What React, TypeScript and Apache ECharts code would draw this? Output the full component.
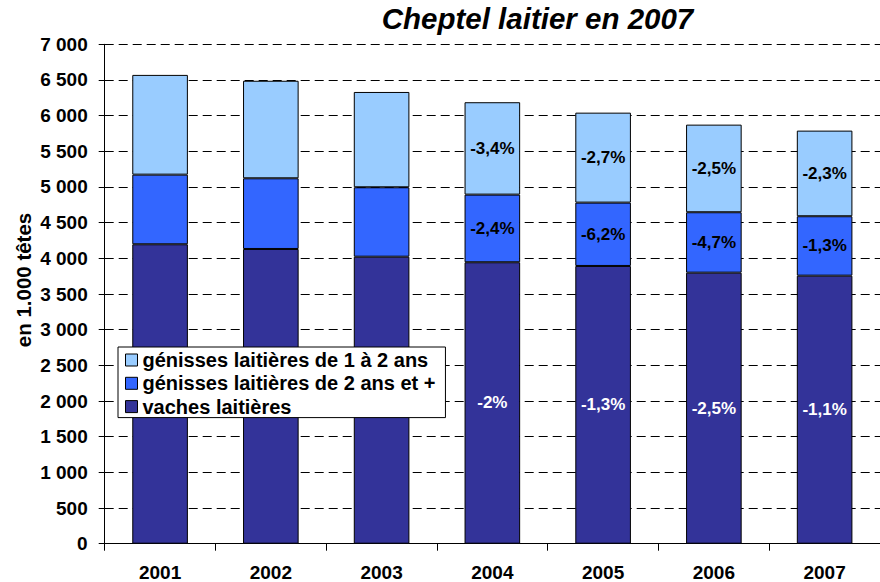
import React, { useEffect, useRef } from "react";
import * as echarts from "echarts";

const years = ["2001", "2002", "2003", "2004", "2005", "2006", "2007"];
const vaches = [4197, 4131, 4023, 3945, 3893, 3799, 3757];
const genisses2 = [976, 991, 973, 948, 888, 847, 833];
const genisses1 = [1398, 1367, 1336, 1295, 1261, 1228, 1200];
const vachesLabels = ["", "", "", "-2%", "-1,3%", "-2,5%", "-1,1%"];
const genisses2Labels = ["", "", "", "-2,4%", "-6,2%", "-4,7%", "-1,3%"];
const genisses1Labels = ["", "", "", "-3,4%", "-2,7%", "-2,5%", "-2,3%"];
const yTicks = { min: 0, max: 7000, interval: 500 };

const names = {
  g1: "génisses laitières de 1 à 2 ans",
  g2: "génisses laitières de 2 ans et +",
  v: "vaches laitières",
};

const FONT = "'Liberation Sans', Arial, sans-serif";

function mkData(values: number[], labels: string[]) {
  return values.map((v, i) => ({ value: v, label: { show: labels[i] !== "" } }));
}

export default function App() {
  const ref = useRef<HTMLDivElement>(null);
  useEffect(() => {
    if (!ref.current) return;
    const chart = echarts.init(ref.current, null, { renderer: "svg" });
    const labelBase = {
      position: "inside" as const,
      fontFamily: FONT,
      fontWeight: "bold" as const,
      fontSize: 17,
    };
    const fmt = (v: number) => String(v).replace(/\B(?=(\d{3})+(?!\d))/g, " ");
    chart.setOption({
      animation: false,
      backgroundColor: "#fff",
      title: {
        text: "Cheptel laitier en 2007",
        left: 532.5,
        top: -2,
        textAlign: "center",
        textStyle: {
          fontFamily: FONT,
          fontWeight: "bold",
          fontStyle: "italic",
          fontSize: 29.5,
          color: "#000",
        },
      },
      graphic: [
        {
          type: "text",
          x: 23,
          y: 280,
          rotation: Math.PI / 2,
          style: {
            text: "en 1.000 têtes",
            fontFamily: FONT,
            fontWeight: "bold",
            fontSize: 20.5,
            fill: "#000",
            align: "center",
            verticalAlign: "middle",
          },
        },
      ],
      legend: {
        orient: "vertical",
        left: 118,
        top: 347,
        data: [names.g1, names.g2, names.v],
        backgroundColor: "#fff",
        borderColor: "#000",
        borderWidth: 1,
        borderRadius: 0,
        padding: [3, 10, 1, 7],
        itemGap: 3.3,
        itemWidth: 12,
        itemHeight: 12,
        icon: "rect",
        itemStyle: { borderColor: "#000", borderWidth: 1 },
        textStyle: {
          fontFamily: FONT,
          fontWeight: "bold",
          fontSize: 20,
          lineHeight: 20,
          color: "#000",
        },
      },
      grid: { left: 104.7, top: 44.3, width: 785.8, height: 499.4, containLabel: false },
      xAxis: {
        type: "category",
        data: years,
        axisLine: { lineStyle: { color: "#000", width: 1 } },
        axisTick: { show: true, length: 7, alignWithLabel: false, lineStyle: { color: "#000" } },
        axisLabel: {
          margin: 19,
          fontFamily: FONT,
          fontWeight: "bold",
          fontSize: 19,
          color: "#000",
          interval: 0,
        },
        splitLine: { show: false },
      },
      yAxis: [
        {
          type: "value",
          min: yTicks.min,
          max: yTicks.max,
          interval: yTicks.interval,
          axisLine: { show: true, lineStyle: { color: "#000", width: 1 } },
          axisTick: { show: true, length: 6, lineStyle: { color: "#000" } },
          axisLabel: {
            margin: 17,
            fontFamily: FONT,
            fontWeight: "bold",
            fontSize: 19,
            color: "#000",
            formatter: fmt,
          },
          splitLine: {
            show: true,
            lineStyle: { color: "#000", width: 1, type: [9, 5] },
          },
        },
        {
          type: "value",
          position: "left",
          min: yTicks.min,
          max: yTicks.max,
          interval: yTicks.interval,
          axisLine: { show: false },
          axisTick: { show: true, inside: true, length: 6, lineStyle: { color: "#000" } },
          axisLabel: { show: false },
          splitLine: { show: false },
        },
      ],
      series: [
        {
          name: names.v,
          type: "bar",
          stack: "total",
          barWidth: 55.6,
          data: mkData(vaches, vachesLabels),
          itemStyle: { color: "#333399", borderColor: "#000", borderWidth: 1 },
          label: {
            ...labelBase,
            color: "#fff",
            formatter: (p: any) => vachesLabels[p.dataIndex],
          },
        },
        {
          name: names.g2,
          type: "bar",
          stack: "total",
          barWidth: 55.6,
          data: mkData(genisses2, genisses2Labels),
          itemStyle: { color: "#3366FF", borderColor: "#000", borderWidth: 1 },
          label: {
            ...labelBase,
            color: "#000",
            formatter: (p: any) => genisses2Labels[p.dataIndex],
          },
        },
        {
          name: names.g1,
          type: "bar",
          stack: "total",
          barWidth: 55.6,
          data: mkData(genisses1, genisses1Labels),
          itemStyle: { color: "#99CCFF", borderColor: "#000", borderWidth: 1 },
          label: {
            ...labelBase,
            color: "#000",
            formatter: (p: any) => genisses1Labels[p.dataIndex],
          },
        },
      ],
    });
    return () => chart.dispose();
  }, []);
  return (
    <div
      ref={ref}
      style={{ position: "absolute", left: 0, top: 0, width: 880, height: 582, overflow: "hidden" }}
    />
  );
}
